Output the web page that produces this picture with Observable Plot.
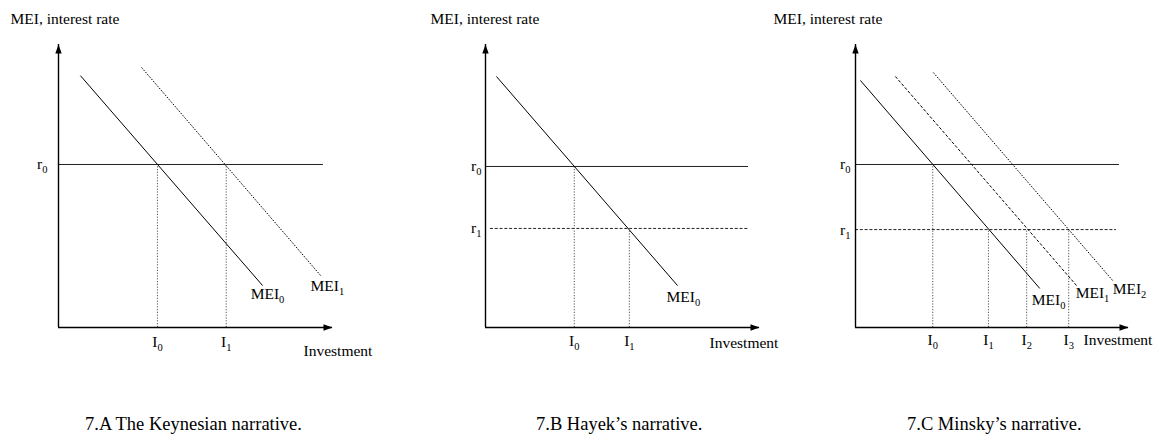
<!DOCTYPE html>
<html>
<head>
<meta charset="utf-8">
<script src="https://cdn.jsdelivr.net/npm/d3@7"></script>
<script src="https://cdn.jsdelivr.net/npm/@observablehq/plot@0.6"></script>
<style>
  html, body { margin: 0; padding: 0; background: #fff; }
  #wrap { position: relative; width: 1154px; height: 436px; overflow: hidden; font-family: "Liberation Serif", "Times New Roman", serif; }
  .panel { position: absolute; top: 0; }
  .panel svg { overflow: visible; }
  .cap { position: absolute; top: 415px; font-size: 18.5px; line-height: 18.5px; white-space: nowrap; color: #000; }
</style>
</head>
<body>
<div id="wrap"></div>
<script>
// ---------- data (units: investment on x, interest rate / MEI on y, axes run 0..10) ----------
const axisTitle = "MEI, interest rate";
const xTitle = "Investment";
const captions = ["7.A The Keynesian narrative.", "7.B Hayek\u2019s narrative.", "7.C Minsky\u2019s narrative."];

// Panel A – Keynes
const aRates  = [{name: "r\u2080", r: 5.76, from: 0, to: 9.67}];
const aCurves = [
  {name: "MEI\u2080", x1: 0.80, y1: 8.90, x2: 7.45, y2: 1.48},
  {name: "MEI\u2081", x1: 3.03, y1: 9.19, x2: 9.60, y2: 1.80}
];
const aInvest = [{name: "I\u2080", i: 3.61, r: 5.76}, {name: "I\u2081", i: 6.12, r: 5.76}];

// Panel B – Hayek
const bRates  = [{name: "r\u2080", r: 5.69, from: 0, to: 9.60}, {name: "r\u2081", r: 3.50, from: 0.18, to: 9.60}];
const bCurves = [{name: "MEI\u2080", x1: 0.40, y1: 8.87, x2: 7.01, y2: 1.48}];
const bInvest = [{name: "I\u2080", i: 3.24, r: 5.69}, {name: "I\u2081", i: 5.25, r: 3.50}];

// Panel C – Minsky
const cRates  = [{name: "r\u2080", r: 5.76, from: 0, to: 9.67}, {name: "r\u2081", r: 3.46, from: 0, to: 9.56}];
const cCurves = [
  {name: "MEI\u2080", x1: 0.18, y1: 8.73, x2: 6.75, y2: 1.38},
  {name: "MEI\u2081", x1: 1.46, y1: 8.87, x2: 8.10, y2: 1.48},
  {name: "MEI\u2082", x1: 2.85, y1: 9.01, x2: 9.42, y2: 1.66}
];
const cInvest = [
  {name: "I\u2080", i: 2.83, r: 5.76}, {name: "I\u2081", i: 4.87, r: 3.46},
  {name: "I\u2082", i: 6.27, r: 3.46}, {name: "I\u2083", i: 7.81, r: 3.46}
];

const axisMax = 10;

// ---------- drawing ----------
const FONT = "'Liberation Serif', 'Times New Roman', serif";
const FS = 15.5;
const DASH = {solid: null, dotted: "1.6,1.4", dashed: "3,1.8", fine: "1.2,1.6"};

const arrowHead = {
  draw(ctx) { ctx.moveTo(0, 0); ctx.lineTo(-3.2, 9); ctx.lineTo(3.2, 9); ctx.closePath(); }
};

// turn trailing unicode subscript digits into a real lowered, smaller tspan
function subscripts(svg) {
  const SUB = "\u2080\u2081\u2082\u2083\u2084\u2085\u2086\u2087\u2088\u2089";
  d3.select(svg).selectAll("text").each(function() {
    if (this.querySelector("tspan")) return;
    const t = this.textContent;
    const last = t.slice(-1);
    const k = SUB.indexOf(last);
    if (k < 0) return;
    this.textContent = t.slice(0, -1);
    d3.select(this).append("tspan")
      .attr("font-size", "10.5px")
      .attr("dy", "4")
      .text(String(k));
  });
  return svg;
}

function panel(cfg) {
  const heads = [{x: axisMax, y: 0, rot: 90}, {x: 0, y: axisMax, rot: 0}];
  const marks = [
    ...cfg.rates.map((d, k) => Plot.ruleY([d], {
      y: "r", x1: "from", x2: "to", stroke: "#222", strokeWidth: 1,
      strokeDasharray: cfg.rateDash[k]
    })),
    Plot.ruleX(cfg.invest, {x: "i", y1: 0, y2: "r", stroke: "#555", strokeWidth: 1, strokeDasharray: DASH.fine}),
    ...cfg.curves.map((d, k) => Plot.link([d], {
      x1: "x1", y1: "y1", x2: "x2", y2: "y2", stroke: "#000", strokeWidth: 1,
      strokeDasharray: cfg.curveDash[k]
    })),
    Plot.ruleY([0], {x1: 0, x2: axisMax, stroke: "#000", strokeWidth: 1.4}),
    Plot.ruleX([0], {y1: 0, y2: axisMax, stroke: "#000", strokeWidth: 1.4}),
    Plot.dot(heads, {x: "x", y: "y", rotate: "rot", symbol: arrowHead, fill: "#000", stroke: "none"}),
    Plot.text(cfg.rates, {x: 0, y: "r", text: "name", textAnchor: "end", dx: cfg.rateDx, fontSize: FS, fill: "#000"}),
    Plot.text(cfg.invest, {x: "i", y: 0, text: "name", textAnchor: "middle", lineAnchor: "top", dy: cfg.tickDy, fontSize: FS, fill: "#000"}),
    ...cfg.curves.map((d, k) => Plot.text([d], {
      x: "x2", y: "y2", text: "name", textAnchor: "start",
      dx: cfg.curveLab[k][0], dy: cfg.curveLab[k][1], fontSize: FS, fill: "#000"
    })),
    Plot.text([xTitle], {x: axisMax, y: 0, text: d => d, textAnchor: "start", dx: cfg.xTitle[0], dy: cfg.xTitle[1], fontSize: FS, fill: "#000"}),
    Plot.text([axisTitle], {x: 0, y: axisMax, text: d => d, textAnchor: "start", dx: cfg.yTitle[0], dy: cfg.yTitle[1], fontSize: FS, fill: "#000"})
  ];
  return subscripts(Plot.plot({
    width: cfg.w, height: 400,
    marginTop: 0, marginBottom: 0, marginLeft: 0, marginRight: 0,
    x: {domain: [0, axisMax], range: cfg.xr, axis: null},
    y: {domain: [0, axisMax], range: [327, 44], axis: null},
    style: {fontFamily: FONT, fontSize: FS + "px", background: "transparent", color: "#000", overflow: "visible"},
    marks
  }));
}

const cfgs = [
  {left: 0, w: 390, xr: [58, 332], rates: aRates, curves: aCurves, invest: aInvest,
   rateDash: [DASH.solid], curveDash: [DASH.solid, DASH.dotted],
   rateDx: -11, tickDy: 8, curveLab: [[-12, 8], [-11, 9]], xTitle: [-29, 24], yTitle: [-48, -25]},
  {left: 390, w: 390, xr: [95, 369], rates: bRates, curves: bCurves, invest: bInvest,
   rateDash: [DASH.solid, DASH.dashed], curveDash: [DASH.solid],
   rateDx: -4, tickDy: 7, curveLab: [[-11, 11]], xTitle: [-50, 16], yTitle: [-55, -25]},
  {left: 770, w: 384, xr: [85, 358], rates: cRates, curves: cCurves, invest: cInvest,
   rateDash: [DASH.solid, DASH.dashed], curveDash: [DASH.solid, DASH.dashed, DASH.dotted],
   rateDx: -5, tickDy: 6, curveLab: [[-8, 12], [-1, 7], [0, 9]], xTitle: [-45, 13], yTitle: [-82, -25]}
];

const wrap = document.getElementById("wrap");
cfgs.forEach(cfg => {
  const div = document.createElement("div");
  div.className = "panel";
  div.style.left = cfg.left + "px";
  div.appendChild(panel(cfg));
  wrap.appendChild(div);
});

const capLeft = [85, 536, 907];
captions.forEach((t, k) => {
  const c = document.createElement("div");
  c.className = "cap";
  c.style.left = capLeft[k] + "px";
  c.textContent = t;
  wrap.appendChild(c);
});
</script>
</body>
</html>
